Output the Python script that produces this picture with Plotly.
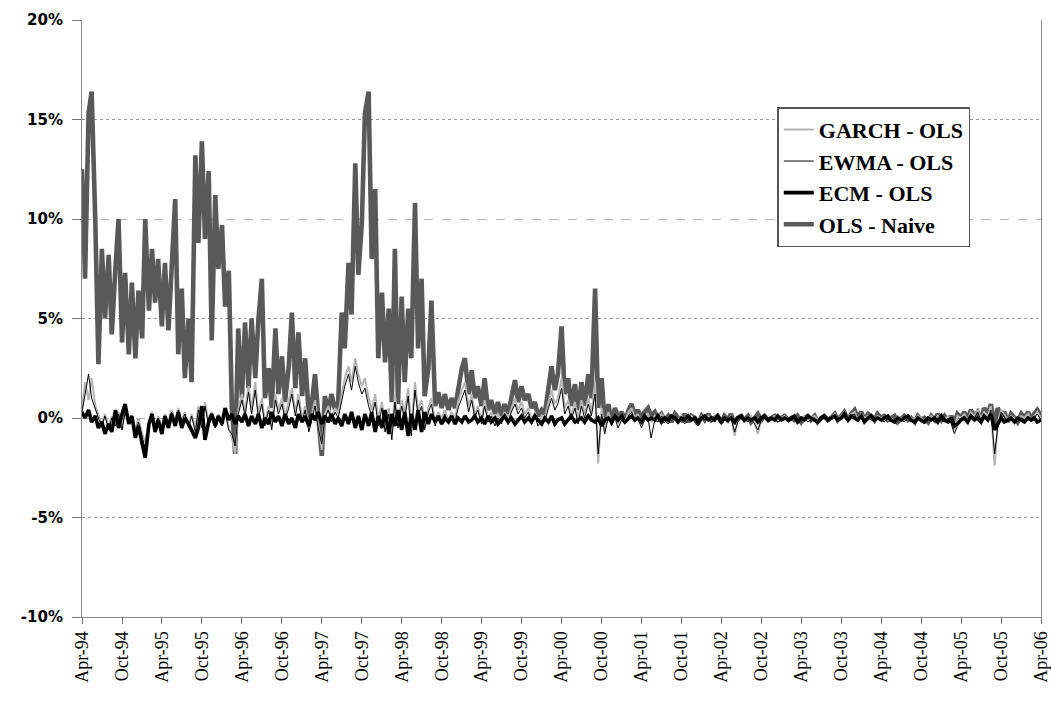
import pandas as pd
import plotly.graph_objects as go

# semi-monthly observation dates, Apr-94 .. Apr-06
dates = pd.date_range("1994-04-01", periods=289, freq="SMS")
tick_dates = pd.date_range("1994-04-01", "2006-04-01", freq="6MS")
tick_text = [d.strftime("%b-%y") for d in tick_dates]
y_ticks = [-10, -5, 0, 5, 10, 15, 20]
y_tick_text = [f"{v}%" for v in y_ticks]
dotted_grid = [-5, 5, 15]
dashed_grid = [0, 10, 20]

ols_naive = [
    12.5, 7.0, 15.3, 16.4, 9.8, 2.7, 8.5, 5.0, 8.2, 4.2,
    7.6, 10.0, 3.8, 7.3, 3.2, 6.8, 3.0, 6.4, 4.0, 10.0,
    5.4, 8.5, 5.8, 8.0, 4.6, 7.8, 4.4, 7.2, 11.0, 3.2,
    6.5, 2.0, 5.0, 1.8, 13.2, 8.8, 13.9, 9.0, 12.4, 3.9,
    11.2, 7.5, 9.7, 5.6, 7.4, 0.5, -1.8, 4.5, 1.0, 4.8,
    1.5, 5.0, 2.0, 4.9, 7.0, 1.0, 2.5, 0.5, 4.5, 1.2,
    3.1, 0.8, 2.6, 5.3, 1.5, 4.3, 1.1, 3.0, 0.0, 0.8,
    2.2, 0.2, -1.9, 1.1, 0.3, 1.2, 0.4, 0.8, 5.3, 3.5,
    7.8, 5.2, 12.8, 7.2, 9.8, 15.3, 16.4, 8.0, 11.5, 3.0,
    6.3, 2.8, 5.5, 0.8, 8.5, 0.7, 6.1, 1.8, 5.5, 3.0,
    10.8, 3.5, 7.0, 1.1, 2.5, 5.9, 0.6, 1.3, 0.5, 1.2,
    0.4, 1.0, 0.5, 1.4, 2.5, 3.0, 1.2, 2.4, 1.0, 1.6,
    0.6, 2.0, 0.4, 0.9, 0.2, 0.8, 0.1, 0.7, 0.2, 1.0,
    1.9, 0.8, 1.6, 0.9, 1.2, 0.5, 0.8, 0.1, 0.4, 0.2,
    1.5, 2.6, 1.4, 2.2, 4.6, 1.2, 2.0, 0.6, 1.7, 0.4,
    1.8, 0.6, 2.2, 1.0, 6.5, 0.5, 2.0, -0.3, 0.7, -0.2,
    0.5, 0.0, 0.3, -0.2, 0.4, 0.7, 0.1, 0.4, 0.0, 0.3,
    0.5, 0.1, 0.3, 0.0, 0.2, -0.1, 0.1, -0.2, 0.2, 0.0,
    -0.1, 0.2, -0.2, 0.1, 0.0, -0.3, 0.1, -0.1, 0.2, -0.1,
    0.0, 0.1, -0.2, 0.1, -0.1, 0.2, -0.3, 0.0, 0.1, -0.1,
    0.1, -0.2, 0.0, 0.2, -0.1, 0.1, -0.1, 0.0, 0.1, -0.1,
    0.0, 0.1, -0.1, 0.0, -0.1, 0.1, -0.2, 0.0, 0.1, -0.1,
    0.1, -0.2, 0.0, 0.1, -0.1, 0.0, 0.2, -0.1, 0.1, 0.3,
    -0.1, 0.2, 0.4, 0.0, 0.3, -0.1, 0.2, 0.1, -0.1, 0.2,
    0.0, 0.1, -0.1, 0.0, 0.1, -0.2, 0.0, 0.1, -0.1, 0.0,
    -0.2, 0.1, -0.1, 0.0, -0.2, 0.1, -0.1, 0.2, -0.1, 0.1,
    -0.2, 0.1, -0.2, 0.2, 0.0, 0.3, -0.1, 0.4, 0.1, 0.3,
    -0.1, 0.5, 0.2, 0.7, -0.4, 0.5, 0.1, 0.3, -0.2, 0.2,
    0.0, -0.2, 0.2, 0.0, 0.3, -0.1, 0.2, 0.4, 0.1,
]

garch_ols = [
    0.5, 1.8, 0.9, 2.0, 0.6, 0.2, -0.3, 0.2, -0.4, 0.1,
    -0.3, 0.3, -0.5, 0.4, -0.2, 0.1, -0.6, 0.0, -0.8, -1.2,
    -0.2, 0.3, -0.4, 0.1, -0.5, 0.2, -0.3, 0.4, -0.2, 0.5,
    -0.1, 0.3, -0.4, 0.2, -0.5, 0.6, -0.3, 0.8, -0.2, 0.3,
    -0.4, 0.2, -0.3, 0.4, -0.5, -1.0, -1.8, 0.4, 1.2, 0.3,
    1.6, 0.5, 1.8, 0.2, 1.0, -0.2, 0.6, -0.4, 1.2, 0.4,
    1.0, 0.1, 0.8, 1.5, 0.3, 1.2, 0.0, 0.6, -0.5, 0.2,
    0.9, -0.3, -1.6, 0.2, 0.6, 0.0, 0.5, 0.2, 1.2, 2.0,
    2.6, 1.8, 3.0, 2.2, 1.6, 2.0, 1.0, 0.4, 1.2, 0.0,
    0.8, -0.4, 0.5, -0.8, 1.2, -0.2, 0.9, 0.3, 1.5, -0.5,
    1.8, 0.4, 0.9, -0.3, 0.5, 1.0, -0.2, 0.3, 0.0, 0.4,
    -0.1, 0.3, 0.0, 0.8, 1.4, 1.8, 0.6, 1.2, 0.2, 0.6,
    -0.1, 0.9, 0.0, 0.3, -0.2, 0.2, -0.1, 0.3, 0.0, 0.5,
    1.0, 0.4, 0.8, 0.2, 0.5, -0.1, 0.3, -0.2, 0.1, 0.0,
    0.8, 1.4, 0.7, 1.0, 2.0, 0.5, 0.9, 0.1, 0.8, -0.1,
    0.9, 0.2, 1.0, 0.3, 1.8, -2.3, 0.5, -0.6, 0.3, -0.2,
    0.2, -0.3, 0.1, -0.2, 0.3, 0.5, 0.0, 0.2, -0.3, 0.1,
    0.2, -0.2, 0.1, -0.1, 0.2, 0.0, -0.2, 0.1, 0.0, -0.1,
    0.1, -0.2, 0.0, 0.1, -0.1, -0.3, 0.1, 0.0, 0.1, -0.1,
    0.0, 0.1, -0.2, 0.0, -0.1, 0.1, -0.9, -0.1, 0.1, 0.0,
    -0.1, 0.1, -0.2, -0.8, 0.0, 0.1, -0.1, 0.0, 0.1, -0.1,
    0.0, 0.1, -0.1, 0.0, 0.1, -0.2, 0.0, 0.1, -0.1, 0.0,
    0.1, -0.1, 0.0, 0.1, -0.1, 0.0, 0.2, -0.1, 0.1, 0.3,
    0.0, 0.2, 0.3, -0.1, 0.2, 0.0, 0.1, 0.0, -0.1, 0.1,
    0.0, -0.1, 0.1, 0.0, -0.2, 0.1, 0.0, -0.1, 0.1, 0.0,
    -0.1, 0.1, 0.0, -0.2, 0.0, 0.1, -0.1, 0.1, 0.0, -0.1,
    0.1, -0.2, -0.6, 0.1, 0.0, 0.2, -0.1, 0.3, 0.1, 0.4,
    0.0, 0.3, 0.1, 0.6, -2.4, -0.3, 0.4, 0.2, -0.1, 0.1,
    0.0, -0.1, 0.1, 0.0, 0.2, -0.1, 0.1, 0.3, 0.0,
]

ewma_ols = [
    0.3, 1.2, 2.2, 1.0, 0.4, 0.0, -0.4, 0.1, -0.6, 0.0,
    -0.4, 0.2, -0.6, 0.3, -0.3, 0.0, -0.8, -0.2, -1.0, -1.5,
    -0.4, 0.2, -0.6, 0.0, -0.7, 0.1, -0.4, 0.3, -0.3, 0.4,
    -0.2, 0.2, -0.5, 0.1, -0.7, 0.4, -0.5, 0.6, -0.4, 0.2,
    -0.5, 0.1, -0.4, 0.3, -0.6, -0.8, -1.4, 0.2, 0.9, 0.1,
    1.3, 0.2, 1.4, 0.0, 0.7, -0.4, 0.4, -0.6, 0.9, 0.2,
    0.7, -0.1, 0.5, 1.2, 0.1, 0.9, -0.2, 0.4, -0.7, 0.0,
    0.6, -0.5, -1.3, 0.0, 0.4, -0.2, 0.3, 0.0, 0.9, 1.6,
    2.2, 1.4, 2.6, 1.8, 1.2, 1.5, 0.6, 0.1, 0.8, -0.4,
    0.5, -0.7, 0.2, -1.1, 0.8, -0.5, 0.6, 0.0, 1.1, -0.9,
    1.4, 0.1, 0.6, -0.6, 0.3, 0.7, -0.4, 0.1, -0.2, 0.2,
    -0.3, 0.1, -0.2, 0.5, 1.0, 1.4, 0.3, 0.9, 0.0, 0.4,
    -0.3, 0.6, -0.2, 0.1, -0.4, 0.0, -0.3, 0.1, -0.2, 0.3,
    0.7, 0.2, 0.5, 0.0, 0.3, -0.3, 0.1, -0.4, -0.1, -0.2,
    0.5, 1.0, 0.4, 0.7, 1.5, 0.2, 0.6, -0.1, 0.5, -0.3,
    0.6, 0.0, 0.7, 0.1, 1.2, -1.8, 0.2, -0.8, 0.1, -0.4,
    0.0, -0.5, -0.1, -0.3, 0.1, 0.3, -0.2, 0.0, -0.5, -0.1,
    0.0, -1.0, -0.1, -0.2, 0.1, -0.1, -0.3, 0.0, -0.1, -0.2,
    0.0, -0.3, -0.1, 0.0, -0.2, -0.4, 0.0, -0.1, 0.0, -0.2,
    -0.1, 0.0, -0.3, -0.1, -0.2, 0.0, -0.7, -0.2, 0.0, -0.1,
    -0.2, 0.0, -0.3, -0.6, -0.1, 0.0, -0.2, -0.1, 0.0, -0.2,
    -0.1, 0.0, -0.2, -0.1, 0.0, -0.3, -0.1, 0.0, -0.2, -0.1,
    0.0, -0.2, -0.1, 0.0, -0.2, -0.1, 0.1, -0.2, 0.0, 0.2,
    -0.1, 0.1, 0.2, -0.2, 0.1, -0.1, 0.0, -0.1, -0.2, 0.0,
    -0.1, -0.2, 0.0, -0.1, -0.3, 0.0, -0.1, -0.2, 0.0, -0.1,
    -0.2, 0.0, -0.1, -0.3, -0.1, 0.0, -0.2, 0.0, -0.1, -0.2,
    0.0, -0.3, -0.8, -0.4, -0.1, 0.1, -0.2, 0.2, 0.0, 0.3,
    -0.1, 0.2, 0.0, 0.4, -1.8, -0.5, 0.3, 0.1, -0.2, 0.0,
    -0.1, -0.2, 0.0, -0.1, 0.1, -0.2, 0.0, 0.2, -0.1,
]

ecm_ols = [
    0.3, 0.0, 0.4, -0.2, 0.1, -0.5, -0.2, -0.8, -0.3, -0.7,
    0.4, -0.5, 0.2, 0.7, -0.3, 0.1, -1.0, -0.4, -1.3, -2.0,
    -0.3, 0.2, -0.7, -0.1, -0.8, 0.1, -0.5, 0.2, -0.4, 0.3,
    -0.5, 0.0, -0.3, -0.6, -1.0, -0.5, 0.6, -1.1, -0.2, 0.2,
    -0.4, 0.1, -0.3, 0.5, -0.1, 0.2, -0.3, 0.1, -0.2, 0.2,
    -0.4, 0.1, -0.3, 0.2, -0.5, 0.0, -0.3, 0.3, -0.2, 0.1,
    -0.4, 0.2, -0.3, 0.0, -0.5, 0.2, -0.2, 0.1, -0.4, 0.2,
    -0.1, 0.3, -0.3, 0.1, -0.2, 0.2, -0.3, 0.0, -0.4, 0.2,
    -0.3, 0.3, -0.5, 0.1, -0.6, 0.2, -0.4, 0.3, -0.7, 0.1,
    -0.5, 0.4, -0.8, 0.2, -0.4, 0.4, -0.6, 0.3, -0.9, 0.2,
    -0.6, 0.4, -0.7, 0.3, -0.3, 0.2, -0.2, 0.1, -0.3, 0.0,
    -0.2, 0.1, -0.3, 0.0, -0.2, 0.1, -0.2, -0.1, 0.1, -0.2,
    0.0, -0.3, 0.1, -0.2, 0.0, -0.3, -0.1, 0.1, -0.2, 0.0,
    -0.3, -0.1, 0.1, -0.2, 0.0, -0.2, 0.1, -0.1, -0.3, 0.0,
    -0.2, 0.1, -0.3, -0.1, 0.0, -0.3, -0.1, 0.1, -0.2, -0.1,
    0.0, -0.2, 0.1, -0.1, -0.2, 0.0, -0.4, -0.1, 0.0, -0.2,
    0.1, -0.1, 0.1, -0.2, 0.0, 0.1, -0.1, 0.0, -0.2, 0.1,
    -0.1, 0.0, -0.1, 0.1, -0.2, 0.0, -0.1, 0.1, 0.0, -0.2,
    0.0, -0.1, 0.1, -0.1, 0.0, -0.2, 0.0, 0.1, -0.1, 0.0,
    -0.1, 0.1, -0.2, 0.0, -0.1, 0.0, -0.2, 0.0, 0.1, -0.1,
    0.0, -0.1, 0.0, -0.2, 0.0, 0.1, -0.1, 0.0, -0.1, 0.1,
    -0.1, 0.0, -0.1, 0.0, 0.1, -0.2, 0.0, -0.1, 0.1, 0.0,
    -0.1, -0.2, 0.0, 0.1, -0.1, 0.0, 0.1, -0.1, 0.0, 0.2,
    -0.1, 0.1, 0.0, -0.1, 0.1, -0.2, 0.0, 0.1, -0.1, 0.0,
    -0.1, 0.0, 0.1, -0.1, -0.2, 0.0, -0.1, 0.0, 0.1, -0.1,
    -0.2, 0.0, -0.1, -0.2, 0.0, -0.1, 0.0, -0.2, 0.1, -0.1,
    -0.2, 0.0, -0.4, -0.3, -0.1, 0.0, -0.2, 0.1, -0.1, 0.0,
    -0.2, 0.1, -0.1, 0.2, -0.6, -0.3, 0.0, -0.2, -0.1, 0.0,
    -0.2, 0.0, -0.1, -0.2, 0.0, -0.1, 0.0, -0.2, -0.1,
]

series = [
    ("OLS - Naive", ols_naive, "#595959", 4.6, 4),
    ("GARCH - OLS", garch_ols, "#b4b4b4", 2.0, 1),
    ("EWMA - OLS", ewma_ols, "#000000", 1.0, 2),
    ("ECM - OLS", ecm_ols, "#000000", 3.6, 3),
]

fig = go.Figure()
# invisible carriers for the two gridline styles
fig.add_trace(go.Scatter(x=[dates[0]], y=[None], yaxis="y2",
                         showlegend=False, hoverinfo="skip"))
fig.add_trace(go.Scatter(x=[dates[0]], y=[None], yaxis="y3",
                         showlegend=False, hoverinfo="skip"))
for name, vals, color, width, rank in series:
    fig.add_trace(go.Scatter(
        x=dates[:len(vals)], y=vals, mode="lines", name=name,
        line=dict(color=color, width=width), legendrank=rank,
    ))

fig.update_layout(
    width=1051, height=707,
    margin=dict(l=82, r=10, t=20, b=90),
    paper_bgcolor="white", plot_bgcolor="white",
    showlegend=True,
    legend=dict(
        x=0.725, y=0.854, xanchor="left", yanchor="top",
        bgcolor="white", bordercolor="#555", borderwidth=1.5,
        font=dict(family="Liberation Serif", size=22, color="black",
                  weight="bold"),
        itemwidth=30,
    ),
    xaxis=dict(
        range=[dates[0], dates[-1]], automargin=False,
        tickvals=list(tick_dates), ticktext=tick_text, tickangle=-90,
        ticks="outside", ticklen=6, tickcolor="#777",
        showgrid=False, showline=True, linecolor="#888", linewidth=1,
        tickfont=dict(family="Liberation Serif", size=18, color="black"),
        zeroline=False,
    ),
    yaxis=dict(
        range=[-10, 20], tickvals=y_ticks, ticktext=y_tick_text,
        automargin=False,
        ticks="outside", ticklen=9, tickcolor="#777", ticklabelstandoff=6,
        showgrid=False,
        showline=True, linecolor="#888", linewidth=1, mirror=True,
        zeroline=False,
        tickfont=dict(family="DejaVu Sans", size=15, color="black",
                      weight="bold"),
    ),
    yaxis2=dict(
        range=[-10, 20], tickvals=dotted_grid, overlaying="y", side="left",
        showgrid=True, gridcolor="#999999", griddash="dot", gridwidth=1,
        showticklabels=False, zeroline=False, showline=False,
    ),
    yaxis3=dict(
        range=[-10, 20], tickvals=dashed_grid, overlaying="y", side="left",
        showgrid=True, gridcolor="#b5b5b5", griddash="dash", gridwidth=1.2,
        showticklabels=False, zeroline=False, showline=False,
    ),
)

fig.write_html("out.html")
